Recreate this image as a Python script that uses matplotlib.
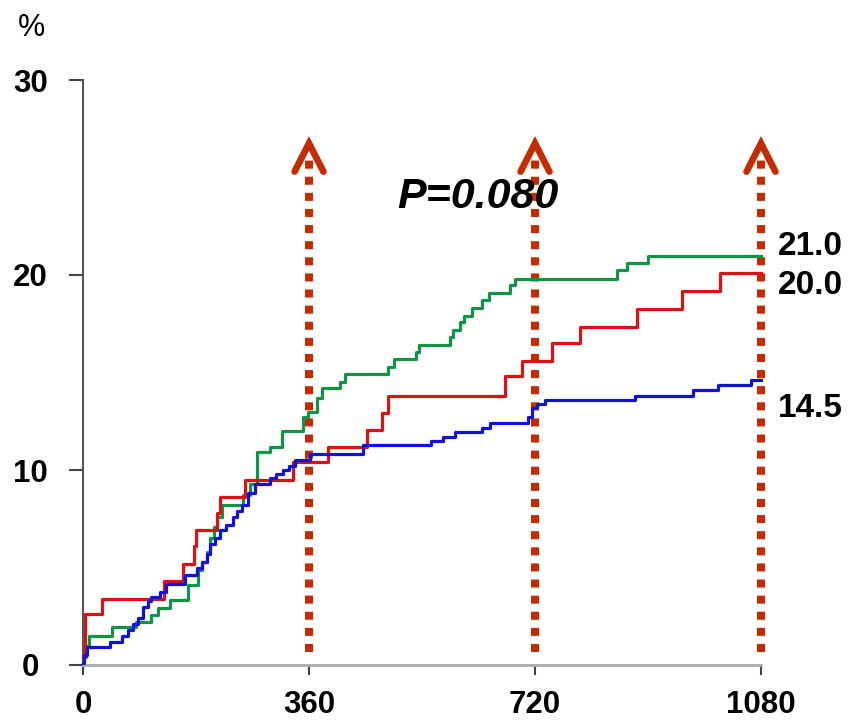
#!/usr/bin/env python3

import matplotlib
matplotlib.use('Agg')
import matplotlib.pyplot as plt

# Cumulative incidence (%) by day, step curves
red_days = [0, 3, 30, 129, 159, 177, 180, 214, 218, 258, 334, 391, 452, 477, 486,
            672, 699, 747, 792, 882, 954, 1015, 1080]
red_pct = [0.4, 2.6, 3.4, 4.3, 5.2, 6.1, 6.9, 7.8, 8.6, 9.5, 10.4, 11.2, 12.05, 12.9, 13.8,
           14.8, 15.6, 16.5, 17.35, 18.25, 19.2, 20.1, 20.1]

green_days = [0, 5, 10, 46, 85, 109, 120, 139, 168, 183, 190, 197, 203, 208, 214, 221, 255,
              266, 277, 298, 317, 351, 358, 372, 380, 409, 417, 486, 495, 531, 535, 585,
              589, 600, 607, 619, 635, 647, 680, 688, 851, 867, 900, 1080]
green_pct = [0.4, 1.0, 1.5, 1.95, 2.2, 2.56, 2.9, 3.33, 4.1, 4.87, 5.3, 5.8, 6.5, 7.1, 7.6,
             8.2, 8.7, 9.3, 10.9, 11.2, 12.0, 12.7, 13.0, 13.7, 14.2, 14.5, 14.9, 15.3, 15.7,
             16.05, 16.4, 16.8, 17.2, 17.6, 17.9, 18.3, 18.7, 19.1, 19.5, 19.8, 20.25, 20.6,
             21.0, 21.0]

blue_days = [0, 2, 6, 43, 62, 72, 80, 87, 96, 103, 109, 123, 133, 162, 181, 190, 197, 203,
             210, 218, 228, 239, 246, 253, 263, 274, 298, 308, 319, 328, 338, 362, 446, 555,
             574, 592, 635, 648, 709, 715, 723, 736, 879, 972, 1011, 1064, 1080]
blue_pct = [0.1, 0.5, 0.9, 1.2, 1.5, 1.8, 2.1, 2.4, 3.0, 3.3, 3.5, 3.74, 4.15, 4.6, 4.97,
            5.3, 5.7, 6.2, 6.5, 6.9, 7.2, 7.6, 7.9, 8.2, 8.8, 9.3, 9.6, 9.8, 10.0, 10.2, 10.5,
            10.8, 11.3, 11.5, 11.7, 11.95, 12.15, 12.4, 12.7, 13.2, 13.4, 13.6, 13.8, 14.1,
            14.35, 14.6, 14.6]

end_labels = ['21.0', '20.0', '14.5']
end_label_y = [21.45, 19.45, 13.15]

marker_days = [360, 720, 1080]
x_ticks = [0, 360, 720, 1080]
y_ticks = [0, 10, 20, 30]
p_text = 'P=0.080'

plt.rcParams['font.family'] = ['Liberation Sans', 'DejaVu Sans']

fig = plt.figure(figsize=(8.54, 7.2), dpi=100)
ax = fig.add_axes([83 / 854, 55 / 720, 678 / 854, 585 / 720])

arrow_color = '#c42c00'

# dotted vertical markers with chevron heads
for d in marker_days:
    ax.plot([d, d], [0.67, 25.9], color=arrow_color, linewidth=5.8,
            dashes=(1, 1), dash_capstyle='butt', clip_on=False, zorder=1)
    ax.plot([d - 23, d, d + 23], [25.3, 26.75, 25.3], color=arrow_color, linewidth=4.8,
            solid_capstyle='round', solid_joinstyle='miter', clip_on=False, zorder=1)

ax.plot(green_days, green_pct, drawstyle='steps-post', color='#129447', linewidth=2.3,
        clip_on=False, zorder=2)
ax.plot(red_days, red_pct, drawstyle='steps-post', color='#dd1111', linewidth=2.3,
        clip_on=False, zorder=3)
ax.plot(blue_days, blue_pct, drawstyle='steps-post', color='#1111dd', linewidth=2.3,
        clip_on=False, zorder=4)

for lab, yy in zip(end_labels, end_label_y):
    ax.text(1107, yy, lab, fontsize=24, fontweight='bold', va='center', ha='left',
            clip_on=False)

ax.text(629, 24.0, p_text, fontsize=31, fontweight='bold', fontstyle='italic',
        ha='center', va='center', zorder=5)

fig.text(32 / 854, 1 - 28 / 720, '%', fontsize=22, ha='center', va='center')

ax.set_xlim(0, 1080)
ax.set_ylim(0, 30)
ax.set_xticks(x_ticks)
ax.set_yticks(y_ticks)
ax.set_xticklabels([str(t) for t in x_ticks], fontsize=22.5, fontweight='bold')
ax.set_yticklabels([str(t) for t in y_ticks], fontsize=22.5, fontweight='bold',
                   ha='center')
ax.tick_params(axis='x', direction='out', length=7, width=1.5, color='#444444', pad=11)
ax.tick_params(axis='y', direction='out', length=10, width=1.5, color='#444444', pad=28)

ax.spines['top'].set_visible(False)
ax.spines['right'].set_visible(False)
ax.spines['left'].set_color('#555555')
ax.spines['left'].set_linewidth(1.5)
ax.spines['bottom'].set_color('#aaaaaa')
ax.spines['bottom'].set_linewidth(2)

fig.savefig('out.png', dpi=100)
